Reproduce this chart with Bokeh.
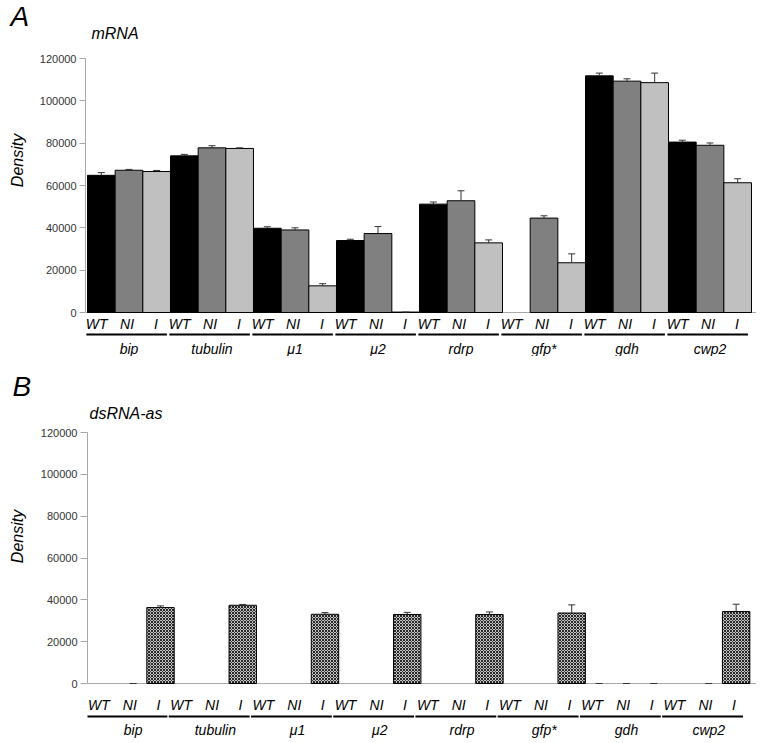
import math
from bokeh.plotting import figure
from bokeh.layouts import column, row
from bokeh.models import Range1d, FixedTicker, Span, NumeralTickFormatter, ColumnDataSource
from bokeh.core.properties import value
from bokeh.embed import file_html
from bokeh.resources import INLINE

NaN = float("nan")

genes = ["bip", "tubulin", "\u03bc1", "\u03bc2", "rdrp", "gfp*", "gdh", "cwp2"]
conditions = ["WT", "NI", "I"]
y_ticks = [0, 20000, 40000, 60000, 80000, 100000, 120000]

# Panel A: mRNA (density)
mrna_wt = [64800, 74000, 39800, 34000, 51200, NaN, 111800, 80500]
mrna_ni = [67200, 77800, 39000, 37300, 52800, 44600, 109300, 79000]
mrna_i = [66600, 77500, 12600, 200, 32900, 23500, 108600, 61300]
mrna_wt_err = [1300, 700, 700, 600, 1000, NaN, 1300, 900]
mrna_ni_err = [400, 1000, 1000, 3300, 4700, 1100, 1100, 1100]
mrna_i_err = [500, 300, 1000, 0, 1400, 4200, 4500, 1900]

# Panel B: dsRNA-as (density)
ds_wt = [NaN, NaN, NaN, NaN, NaN, NaN, 0, NaN]
ds_ni = [0, NaN, NaN, NaN, NaN, NaN, 0, 0]
ds_i = [36300, 37400, 33100, 33000, 33000, 33700, 0, 34400]
ds_wt_err = [NaN, NaN, NaN, NaN, NaN, NaN, 0, NaN]
ds_ni_err = [0, NaN, NaN, NaN, NaN, NaN, 0, 0]
ds_i_err = [800, 400, 800, 1000, 1200, 3900, 0, 3500]

FONT = "Liberation Sans"
W = 756
LEFT_W = 36


def panel(letter, title, series, errors, fills, hatched, g):
    # all g[...] positions are picture pixels; g["y0"] = figure top
    y0 = g["y0"]
    H = g["height"]
    zero = g["zero"] - y0
    y120 = g["y120"] - y0
    s = (zero - y120) / 120000.0
    bw = g["bw"]
    frame_left = g["frame_left"]
    border = frame_left - LEFT_W
    fw = W - frame_left
    x_start = -g["pad_l"] / bw
    x_end = x_start + fw / bw
    y_end = 120000 + y120 / s
    y_start = -(H - zero) / s

    def ydat(py):
        return (zero - (py - y0)) / s

    def xdat(px):
        return x_start + (px - frame_left) / bw

    # narrow left figure holding the panel letter and the axis title
    lf = figure(width=LEFT_W, height=H, x_range=Range1d(0, LEFT_W),
                y_range=Range1d(y_start, y_end), output_backend="svg",
                toolbar_location=None, x_axis_location=None, y_axis_location=None,
                title_location=None, min_border=0)
    lf.outline_line_color = None
    lf.grid.visible = False
    lf.text(x=[g["letter_x"]], y=[ydat(g["letter_y"])], text=[letter],
            text_font=value(FONT), text_font_style="italic", text_font_size="28px",
            text_align="left", text_baseline="middle", text_color="black")
    lf.text(x=[g["dens_x"]], y=[ydat(g["dens_y"])], text=["Density"], angle=math.pi / 2,
            text_font=value(FONT), text_font_style="italic", text_font_size="16px",
            text_align="center", text_baseline="middle", text_color="black")

    p = figure(width=W - LEFT_W, height=H, x_range=Range1d(x_start, x_end),
               y_range=Range1d(y_start, y_end), output_backend="svg",
               toolbar_location=None, x_axis_location=None, title_location=None,
               min_border_left=border, min_border_right=0, min_border_top=0,
               min_border_bottom=0)
    p.outline_line_color = None
    p.grid.visible = False

    ax = p.yaxis[0]
    ax.bounds = (0, 120000)
    ax.ticker = FixedTicker(ticks=y_ticks)
    ax.formatter = NumeralTickFormatter(format="0")
    ax.axis_line_color = "#a8a8a8"
    ax.major_tick_line_color = "#a8a8a8"
    ax.major_tick_in = 0
    ax.major_tick_out = g["tick"]
    ax.minor_tick_line_color = None
    ax.major_label_standoff = 3
    ax.major_label_text_font = FONT
    ax.major_label_text_font_size = "11px"
    ax.major_label_text_color = "#333333"

    p.add_layout(Span(location=0, dimension="width", line_color="#a8a8a8",
                      line_width=1, level="underlay"))

    bx, bt, bf, ex, et, ee = [], [], [], [], [], []
    for gi in range(len(genes)):
        for ci in range(len(conditions)):
            xc = gi * 3 + ci + 0.5
            v = series[ci][gi]
            e = errors[ci][gi]
            if not math.isnan(v) and v > 0:
                bx.append(xc); bt.append(v); bf.append(fills[ci])
            if not math.isnan(v) and not math.isnan(e):
                ex.append(xc); et.append(v); ee.append(v + e)

    bars = ColumnDataSource(dict(x=bx, top=bt, fill=bf))
    kw = dict(x="x", top="top", bottom=0, width=1.0, fill_color="fill",
              line_color="black", line_width=1, source=bars)
    if hatched:
        kw.update(hatch_pattern="diagonal_cross", hatch_color="#262626",
                  hatch_scale=3.0, hatch_weight=1.0)
    p.vbar(**kw)

    cap = 3.5 / bw
    p.segment(x0=ex, x1=ex, y0=et, y1=ee, line_color="#333333", line_width=1)
    p.segment(x0=[x - cap for x in ex], x1=[x + cap for x in ex], y0=ee, y1=ee,
              line_color="#333333", line_width=1)

    # condition labels under each bar
    offs = g["sub_off"]
    lx, lt = [], []
    for gi in range(len(genes)):
        for ci, c in enumerate(conditions):
            lx.append(gi * 3 + ci + 0.5 + offs[ci])
            lt.append(c)
    p.text(x=lx, y=[ydat(g["sub"])] * len(lx), text=lt,
           text_font=value(FONT), text_font_style="italic",
           text_font_size="14px", text_align="center",
           text_baseline="middle", text_color="black")

    # group underlines
    g0 = [gi * 3 + g["line_a"] for gi in range(len(genes))]
    g1 = [gi * 3 + g["line_b"] for gi in range(len(genes))]
    yl = ydat(g["line"])
    p.segment(x0=g0, x1=g1, y0=[yl] * len(g0), y1=[yl] * len(g0),
              line_color="black", line_width=2)

    # gene names
    p.text(x=[gi * 3 + 1.5 for gi in range(len(genes))],
           y=[ydat(g["group"])] * len(genes), text=genes,
           text_font=value(FONT), text_font_style="italic", text_font_size="14px",
           text_align="center", text_baseline="middle", text_color="black")

    # panel title
    p.text(x=[xdat(g["title_x"])], y=[ydat(g["title_y"])], text=[title],
           text_font=value(FONT), text_font_style="italic", text_font_size="16px",
           text_align="left", text_baseline="middle", text_color="black")
    return row(lf, p, spacing=0)


geoA = dict(y0=0, height=356, frame_left=84, zero=312, y120=58, bw=27.708, pad_l=2.0,
            tick=6, sub=323, line=334, group=348,
            sub_off=[-0.17, -0.07, -0.03], line_a=-0.04, line_b=2.87,
            letter_x=10, letter_y=16, dens_x=16.5, dens_y=160, title_x=90, title_y=33)
geoB = dict(y0=356, height=386, frame_left=87, zero=683, y120=432, bw=27.41, pad_l=4.5,
            tick=7, sub=704, line=716, group=729,
            sub_off=[-0.25, -0.12, -0.08], line_a=-0.2, line_b=2.75,
            letter_x=12, letter_y=386, dens_x=16.5, dens_y=536, title_x=89, title_y=413)

pA = panel("A", "mRNA", [mrna_wt, mrna_ni, mrna_i],
           [mrna_wt_err, mrna_ni_err, mrna_i_err],
           ["#000000", "#808080", "#c0c0c0"], False, geoA)
pB = panel("B", "dsRNA-as", [ds_wt, ds_ni, ds_i],
           [ds_wt_err, ds_ni_err, ds_i_err],
           ["#c4c4c4", "#c4c4c4", "#c4c4c4"], True, geoB)

layout = column(pA, pB, spacing=0)
open("out.html", "w").write(file_html(layout, INLINE))
